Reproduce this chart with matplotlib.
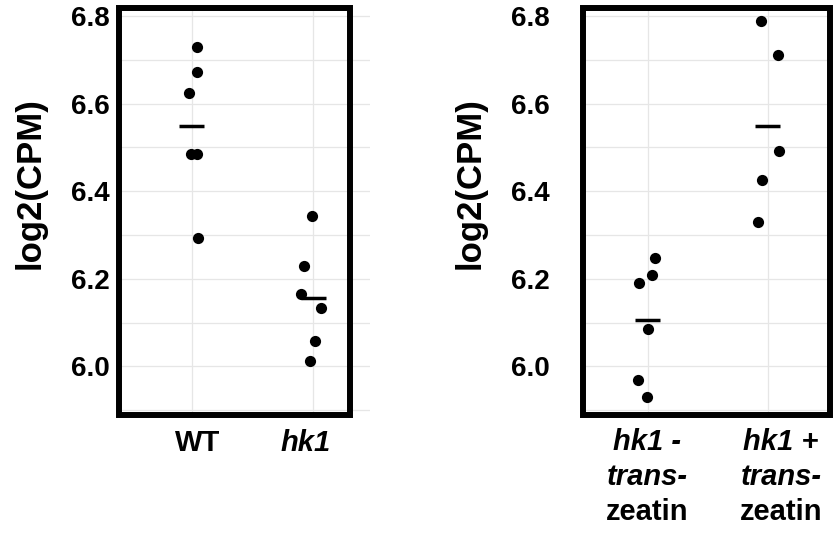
import numpy as np
import matplotlib
matplotlib.use("Agg")
import matplotlib.pyplot as plt
from matplotlib.patches import Rectangle

plt.rcParams['font.family'] = ['Liberation Sans', 'DejaVu Sans']
plt.rcParams['font.weight'] = 'bold'

W, H = 833, 537

# ---------------- data ----------------
wt_vals = [6.730, 6.671, 6.624, 6.485, 6.485, 6.294]
wt_x = [1.041, 1.041, 0.980, 0.992, 1.046, 1.054]
hk1_vals = [6.344, 6.230, 6.165, 6.134, 6.057, 6.012]
hk1_x = [1.987, 1.924, 1.899, 2.063, 2.014, 1.973]

minus_vals = [6.247, 6.209, 6.190, 6.085, 5.969, 5.929]
minus_x = [1.061, 1.038, 0.930, 1.000, 0.922, 0.992]
plus_vals = [6.789, 6.711, 6.492, 6.426, 6.330]
plus_x = [1.944, 2.083, 2.092, 1.955, 1.922]

major_ticks = [6.0, 6.2, 6.4, 6.6, 6.8]
minor_ticks = [5.9, 6.1, 6.3, 6.5, 6.7]


def fx(px):
    return px / W


def fy(py):
    return 1 - py / H


def panel(fig, left, right, xlim, border_right, pad, groups):
    ax = fig.add_axes([fx(left), fy(415), fx(right) - fx(left), fy(8) - fy(415)])
    ax.set_xlim(*xlim)
    ax.set_ylim(5.889, 6.818)
    for s in ax.spines.values():
        s.set_visible(False)
    ax.set_yticks(major_ticks)
    ax.set_yticks(minor_ticks, minor=True)
    ax.set_yticklabels([f"{t:.1f}" for t in major_ticks])
    ax.set_xticks([1, 2])
    ax.set_xticklabels([])
    ax.tick_params(axis='both', which='both', length=0)
    ax.tick_params(axis='y', labelsize=20, pad=pad)
    ax.grid(True, which='both', color='#e6e6e6', lw=0.9)
    ax.set_axisbelow(True)
    for xs, vals, c in groups:
        ax.scatter(xs, vals, s=65, color='black', zorder=3, linewidths=0)
        m = np.mean(vals)
        ax.plot([c - 0.105, c + 0.105], [m, m], color='black', lw=2.5, zorder=4,
                solid_capstyle='butt')
    fig.patches.append(Rectangle((fx(left), fy(415)), fx(border_right) - fx(left),
                                 fy(8) - fy(415), transform=fig.transFigure,
                                 fill=False, edgecolor='black', lw=4.3,
                                 joinstyle='miter', zorder=10))
    return ax


fig = plt.figure(figsize=(W / 100, H / 100), dpi=100)

panel(fig, 119, 370, (0.402, 2.466), 350.3, 7,
      [(wt_x, wt_vals, 1), (hk1_x, hk1_vals, 2)])
panel(fig, 583.3, 830, (0.463, 2.519), 830, 24,
      [(minus_x, minus_vals, 1), (plus_x, plus_vals, 2)])

# y axis titles
for x in (30, 470):
    fig.text(fx(x), fy(183.5), "log2(CPM)", rotation=90, fontsize=25,
             fontweight='bold', ha='center', va='center')

# x tick labels
fig.text(fx(198), fy(443), "WT", fontsize=21, fontweight='bold', ha='center', va='center')
fig.text(fx(306), fy(443), "hk1", fontsize=21, fontweight='bold', style='italic',
         ha='center', va='center')
for x, sign in ((647, "-"), (781, "+")):
    fig.text(fx(x), fy(442), f"hk1 {sign}", fontsize=21, fontweight='bold',
             style='italic', ha='center', va='center')
    fig.text(fx(x), fy(477), "trans-", fontsize=21, fontweight='bold',
             style='italic', ha='center', va='center')
    fig.text(fx(x), fy(512), "zeatin", fontsize=21, fontweight='bold',
             ha='center', va='center')

fig.savefig("out.png", dpi=100)
